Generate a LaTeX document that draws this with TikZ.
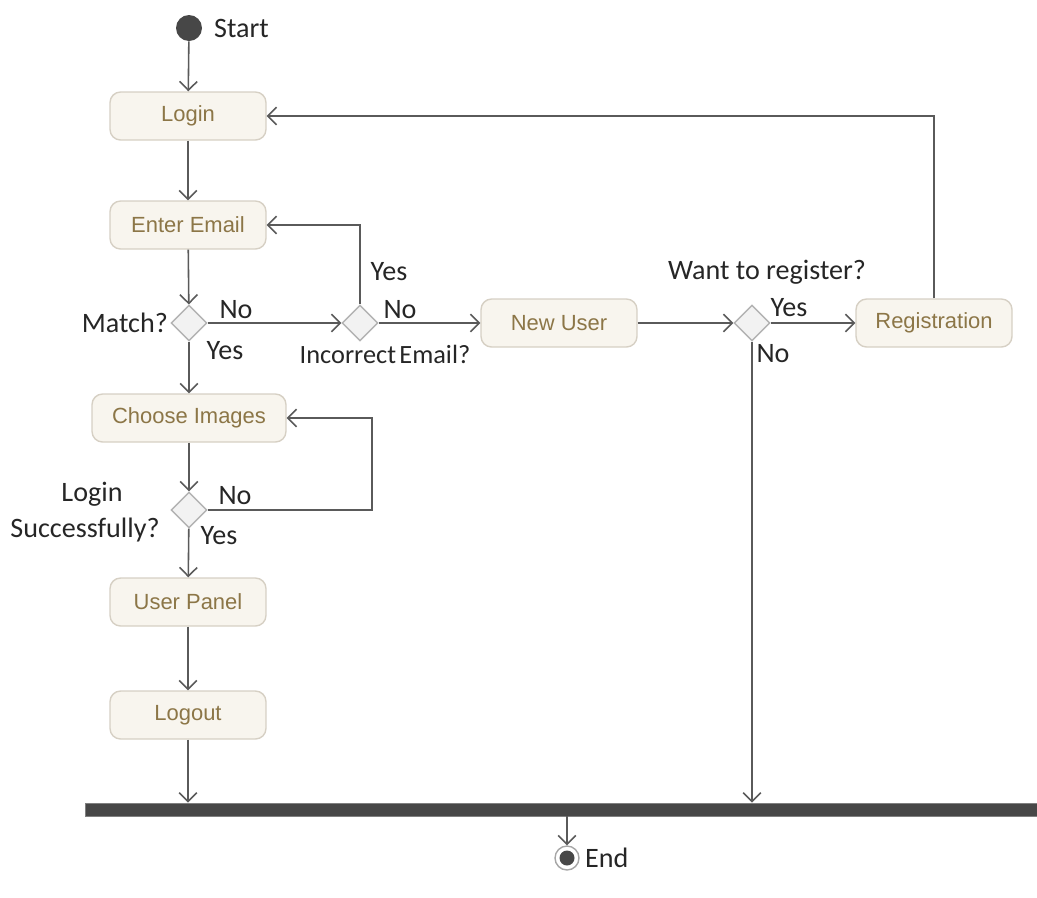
\documentclass[tikz,border=0pt]{standalone}
\usepackage{fontspec}
\setmainfont{Carlito}
\newfontfamily\boxfont{Liberation Sans}
\usetikzlibrary{arrows.meta,shapes.geometric}
\definecolor{linegray}{HTML}{5A5A5A}
\definecolor{boxfill}{HTML}{F8F5EE}
\definecolor{boxline}{HTML}{D6D0C4}
\definecolor{boxtext}{HTML}{8C7647}
\definecolor{barfill}{HTML}{474747}
\tikzstyle{action}=[draw=boxline, fill=boxfill, line width=0.8pt, rounded corners=6pt, minimum width=3.12cm, minimum height=0.96cm, text=boxtext, font=\boxfont\fontsize{12.5}{14}\selectfont]
\tikzstyle{decision}=[diamond, draw=gray!60, fill=gray!10, line width=0.8pt, minimum size=0.72cm, inner sep=0pt]
\tikzstyle{flow}=[draw=linegray, line width=0.9pt, -{Straight Barb[length=5pt,width=10pt]}]
\tikzstyle{lbl}=[font=\fontsize{16}{18}\selectfont, text=black!85, inner sep=1pt]

\begin{document}
\begin{tikzpicture}[x=0.02cm, y=-0.02cm]
\useasboundingbox (0,0) rectangle (1037,897);
\node[circle, fill=barfill, minimum size=0.52cm, inner sep=0pt] at (189,28) (Start) {};
\node[action] at (188,116) (Login) {Login};
\node[action] at (188,225) (Email) {Enter Email};
\node[decision] at (189,323) (Match) {};
\node[decision] at (360,323) (Incorrect) {};
\node[action] at (559,323) (NewUser) {New User};
\node[decision] at (752,323) (WantReg) {};
\node[action] at (934,323) (Registration) {Registration};
\node[action, minimum width=3.88cm] at (189,418) (Choose) {Choose Images};
\node[decision] at (189,510) (LoginOK) {};
\node[action] at (188,602) (Panel) {User Panel};
\node[action] at (188,715) (Logout) {Logout};
\node[fill=barfill, draw=gray, minimum width=19.04cm, minimum height=0.26cm, inner sep=0pt] at (561,809.5) (Bar) {};
\node[circle, draw=gray!70, line width=0.8pt, fill=white, minimum size=0.48cm, inner sep=0pt] at (567,858) (End) {};
\node[circle, fill=barfill, minimum size=0.3cm, inner sep=0pt] at (End) (EndDot) {};
\coordinate (LoopR) at (372,510);
% labels
\node[lbl, anchor=west] at (212,28) (StartL) {Start};
\node[lbl, anchor=west] at (583,858) (EndL) {End};
\node[lbl, anchor=east] at (170,323) (MatchL) {Match?};
\node[lbl] at (236,310) (MatchNo) {No};
\node[lbl] at (225,351) (MatchYes) {Yes};
\node[lbl] at (389,272) (IncYes) {Yes};
\node[lbl] at (400,310) (IncNo) {No};
\node[lbl, font=\fontsize{15}{17}\selectfont] at (385,354) (IncL) {Incorrect\kern-0.1em\ Email?};
\node[lbl] at (767,272) (WantL) {Want to register?};
\node[lbl] at (789,308) (WantYes) {Yes};
\node[lbl] at (773,354) (WantNo) {No};
\node[lbl] at (92,494) (OkL1) {Login};
\node[lbl] at (85,530) (OkL2) {Successfully?};
\node[lbl] at (235,496) (OkNo) {No};
\node[lbl] at (219,536) (OkYes) {Yes};
% connectors
\draw[flow] (Start) -- (Login);
\draw[flow] (Login) -- (Email);
\draw[flow] (Email) -- (Match);
\draw[flow] (Match) -- (Incorrect);
\draw[flow] (Incorrect) -- (NewUser);
\draw[flow] (Incorrect.north) |- (Email.east);
\draw[flow] (NewUser) -- (WantReg);
\draw[flow] (WantReg) -- (Registration);
\draw[flow] (Registration.north) |- (Login.east);
\draw[flow] (Match) -- (Choose);
\draw[flow] (Choose) -- (LoginOK);
\draw[flow] (LoginOK.east) -- (LoopR) |- (Choose.east);
\draw[flow] (LoginOK) -- (Panel);
\draw[flow] (Panel) -- (Logout);
\draw[flow] (Logout) -- (Logout |- Bar.north);
\draw[flow] (WantReg) -- (WantReg |- Bar.north);
\draw[flow] (End |- Bar.south) -- (End);
\end{tikzpicture}
\end{document}
